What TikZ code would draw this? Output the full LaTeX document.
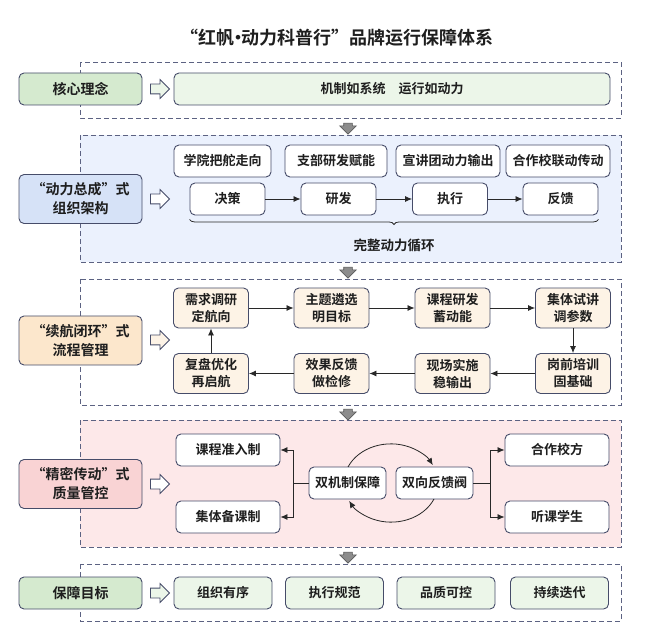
\documentclass[tikz,border=0pt]{standalone}
\usepackage{fontspec}
\setmainfont{Noto Sans CJK SC}[BoldFont={Noto Sans CJK SC Bold}]
\usepackage{xcolor}
\usepackage{tikz}
\usetikzlibrary{arrows.meta, shapes.arrows, decorations.pathreplacing}
\definecolor{zonecol}{RGB}{92, 98, 130}
\definecolor{edgecol}{RGB}{70, 76, 105}
\definecolor{linecol}{RGB}{40, 40, 40}
\definecolor{textcol}{RGB}{30, 30, 30}
\definecolor{greendark}{RGB}{213, 234, 207}
\definecolor{greenlight}{RGB}{236, 246, 233}
\definecolor{bluebg}{RGB}{235, 241, 253}
\definecolor{blueleft}{RGB}{214, 226, 247}
\definecolor{orangeleft}{RGB}{252, 231, 204}
\definecolor{orangelight}{RGB}{253, 243, 230}
\definecolor{pinkbg}{RGB}{253, 232, 233}
\definecolor{pinkleft}{RGB}{249, 211, 212}
\definecolor{arrowgray}{RGB}{140, 140, 140}
\definecolor{arrowedge}{RGB}{90, 90, 90}

\begin{document}
\begin{tikzpicture}[x = 1pt, y = -1pt,
			box/.style = {draw = edgecol, line width = 0.9pt, rounded corners = 5pt, fill = white, text = textcol, font = \fontsize{13}{17}\selectfont\bfseries, align = center, inner sep = 0pt, minimum height = 32pt},
			tag/.style = {box, minimum width = 123pt, font = \fontsize{14}{19}\selectfont\bfseries},
			stage/.style = {box, fill = orangelight, minimum width = 75pt, minimum height = 40pt},
			zone/.style = {draw = zonecol, line width = 0.9pt, dash pattern = on 5pt off 3pt},
			link/.style = {draw = linecol, line width = 0.8pt},
			flow/.style = {link, -{Latex[length = 7pt, width = 6pt]}},
			hollow/.style = {single arrow, draw = edgecol, line width = 0.8pt, inner xsep = 0pt, inner ysep = 4.5pt, single arrow head extend = 4.5pt, minimum height = 19pt},
			grayarrow/.style = {single arrow, draw = arrowedge, fill = arrowgray, line width = 0.6pt, inner xsep = 0pt, inner ysep = 4pt, single arrow head extend = 4pt, minimum height = 11pt, rotate = -90}]
			\useasboundingbox (0,0) rectangle (648,644);
			\node[font = \fontsize{18}{21}\selectfont\bfseries, text = textcol] (title) at (337,38) {“红帆\kern-0.32em·\kern-0.32em动力科普行”品牌运行保障体系};

			% core idea
			\draw[zone] (80,62) rectangle (621,118);
			\node[tag, fill = greendark] (idea) at (80.5,89) {核心理念};
			\node[hollow, fill = greenlight] (ha) at (157.5,89) {};
			\node[box, fill = greenlight, minimum width = 436pt] (motto) at (392,89) {机制如系统\hspace{1em}运行如动力};
			\node[grayarrow] (ga) at (348,126.5) {};

			% organisation
			\draw[zone, fill = bluebg] (80,135) rectangle (621,262);
			\node[tag, fill = blueleft, minimum height = 49pt] (org) at (80.5,199) {“动力总成”式\\组织架构};
			\node[hollow, fill = white] (hb) at (157.5,199) {};
			\node[box, minimum width = 97pt] (xy) at (222.5,161) {学院把舵走向};
			\node[box, minimum width = 102pt] (zb) at (336,161) {支部研发赋能};
			\node[box, minimum width = 104pt] (xj) at (448,161) {宣讲团动力输出};
			\node[box, minimum width = 104pt] (hz) at (558,161) {合作校联动传动};
			\node[box, minimum width = 75pt] (jc) at (227.5,199) {决策};
			\node[box, minimum width = 75pt] (yf) at (338.5,199) {研发};
			\node[box, minimum width = 75pt] (zx) at (450,199) {执行};
			\node[box, minimum width = 75pt] (fk) at (560.5,199) {反馈};
			\draw[flow] (jc) -- (yf);
			\draw[flow] (yf) -- (zx);
			\draw[flow] (zx) -- (fk);
			\draw[link, decorate, decoration = {brace, mirror, amplitude = 5pt}] ([yshift = -4pt]jc.south west) -- ([yshift = -4pt]fk.south east);
			\node[font = \fontsize{13.5}{17}\selectfont\bfseries, text = textcol] (cycle) at (394,245) {完整动力循环};
			\node[grayarrow] (gb) at (348,270.5) {};

			% process loop
			\draw[zone] (80,279) rectangle (621,405);
			\node[tag, fill = orangeleft, minimum height = 49pt] (proc) at (80.5,340.5) {“续航闭环”式\\流程管理};
			\node[hollow, fill = orangelight] (hc) at (157.5,340) {};
			\node[stage] (dy) at (211,308) {需求调研\\定航向};
			\node[stage] (zt) at (331.5,308) {主题遴选\\明目标};
			\node[stage] (kc) at (452.5,308) {课程研发\\蓄动能};
			\node[stage] (sj) at (573,308) {集体试讲\\调参数};
			\node[stage] (gq) at (573,373.5) {岗前培训\\固基础};
			\node[stage] (xc) at (452.5,373.5) {现场实施\\稳输出};
			\node[stage] (xg) at (331.5,373.5) {效果反馈\\做检修};
			\node[stage] (fp) at (211,373.5) {复盘优化\\再启航};
			\draw[flow] (dy) -- (zt);
			\draw[flow] (zt) -- (kc);
			\draw[flow] (kc) -- (sj);
			\draw[flow] (sj) -- (gq);
			\draw[flow] (gq) -- (xc);
			\draw[flow] (xc) -- (xg);
			\draw[flow] (xg) -- (fp);
			\draw[flow] (fp) -- (dy);
			\node[grayarrow] (gc) at (348,412.5) {};

			% quality control
			\draw[zone, fill = pinkbg] (80,420) rectangle (621,547);
			\node[tag, fill = pinkleft, minimum height = 49pt] (qual) at (80.5,484) {“精密传动”式\\质量管控};
			\node[hollow, fill = white] (hd) at (157.5,484) {};
			\node[box, minimum width = 104pt] (entry) at (228,450) {课程准入制};
			\node[box, minimum width = 104pt] (prep) at (228,517) {集体备课制};
			\node[box, minimum width = 77pt] (dual) at (347.5,483) {双机制保障};
			\node[box, minimum width = 77pt] (valve) at (434.5,483) {双向反馈阀};
			\node[box, minimum width = 104pt] (school) at (557,450) {合作校方};
			\node[box, minimum width = 104pt] (pupil) at (557,517) {听课学生};
			\coordinate (jl) at (293,483);
			\coordinate (jr) at (490,483);
			\draw[link] (dual) -- (jl);
			\draw[flow] (jl) |- (entry.east);
			\draw[flow] (jl) |- (prep.east);
			\draw[link] (valve) -- (jr);
			\draw[flow] (jr) |- (school.west);
			\draw[flow] (jr) |- (pupil.west);
			\draw[flow] (348,467) arc[start angle = 156, end angle = 27, x radius = 47pt, y radius = 39pt];
			\draw[flow] (434,499) arc[start angle = -24, end angle = -153, x radius = 47pt, y radius = 39pt];
			\node[grayarrow] (gd) at (348,555.5) {};

			% goals
			\draw[zone] (80,564) rectangle (621,621);
			\node[tag, fill = greendark] (goal) at (80.5,593) {保障目标};
			\node[hollow, fill = greenlight] (he) at (157.5,593) {};
			\node[box, fill = greenlight, minimum width = 98pt] (yx) at (223,593) {组织有序};
			\node[box, fill = greenlight, minimum width = 98pt] (gf) at (334.5,593) {执行规范};
			\node[box, fill = greenlight, minimum width = 98pt] (kk) at (446,593) {品质可控};
			\node[box, fill = greenlight, minimum width = 98pt] (dd) at (559.5,593) {持续迭代};
\end{tikzpicture}
\end{document}
